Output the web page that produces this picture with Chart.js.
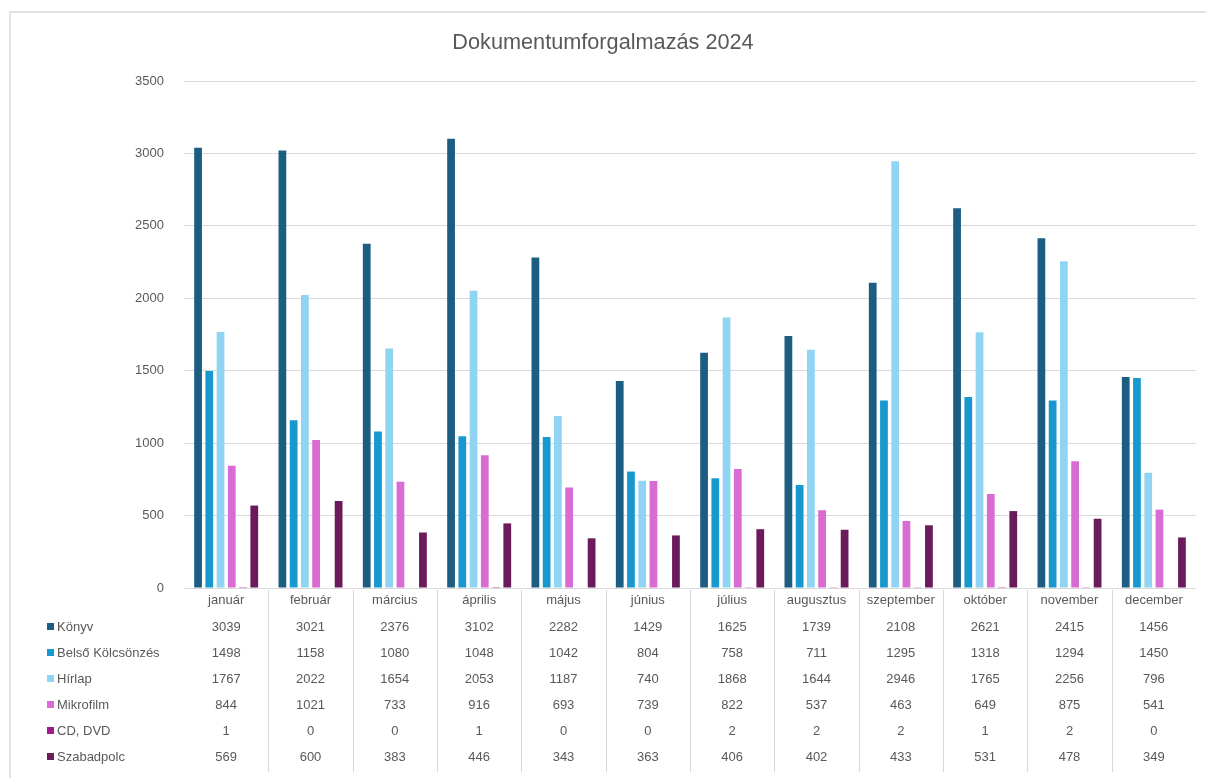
<!DOCTYPE html>
<html>
<head>
<meta charset="utf-8">
<script src="https://cdn.jsdelivr.net/npm/chart.js@4.4.1/dist/chart.umd.min.js"></script>
<style>
  html, body { margin: 0; padding: 0; background: #fff; }
  #wrap { width: 1206px; height: 778px; position: relative; }
</style>
</head>
<body>
<div id="wrap"><canvas id="chart"></canvas></div>
<script>
// ================= DATA =================

const months = ["január","február","március","április","május","június",
                "július","augusztus","szeptember","október","november","december"];

const seriesNames = ["Könyv","Belső Kölcsönzés","Hírlap","Mikrofilm","CD, DVD","Szabadpolc"];

const konyv      = [3039, 3021, 2376, 3102, 2282, 1429, 1625, 1739, 2108, 2621, 2415, 1456];
const belso      = [1498, 1158, 1080, 1048, 1042,  804,  758,  711, 1295, 1318, 1294, 1450];
const hirlap     = [1767, 2022, 1654, 2053, 1187,  740, 1868, 1644, 2946, 1765, 2256,  796];
const mikrofilm  = [ 844, 1021,  733,  916,  693,  739,  822,  537,  463,  649,  875,  541];
const cdDvd      = [   1,    0,    0,    1,    0,    0,    2,    2,    2,    1,    2,    0];
const szabadpolc = [ 569,  600,  383,  446,  343,  363,  406,  402,  433,  531,  478,  349];

const yTicks = [0, 500, 1000, 1500, 2000, 2500, 3000, 3500];

const seriesColors = ["#1c5d82","#1798cf","#8fd4f2","#d86cd3","#a01c8d","#6b1a5b"];

// ================= STYLE =================

const textGray = "#595959";
const lineGray = "#d9d9d9";
const narrow = '"Liberation Sans Narrow", "Liberation Sans", Arial, sans-serif';

// data table under the plot, aligned to the category scale
const dataTablePlugin = {
    id: "dataTable",
    beforeDraw(chart){
        const ctx = chart.ctx;
        ctx.save();
        ctx.strokeStyle = "#e3e3e3";
        ctx.lineWidth = 2;
        ctx.beginPath();
        ctx.moveTo(10, 778);
        ctx.lineTo(10, 12);
        ctx.lineTo(1206, 12);
        ctx.stroke();
        ctx.restore();
    },
    afterDraw(chart){
        const ctx = chart.ctx;
        const x = chart.scales.x;
        const bottom = chart.chartArea.bottom;
        const rowTop = bottom + 39;
        const rowStep = 26;

        ctx.save();

        // dividers between months
        ctx.strokeStyle = lineGray;
        ctx.lineWidth = 1;
        for(let j = 0; j < months.length - 1; j++){
            const xx = Math.round((x.getPixelForValue(j) + x.getPixelForValue(j + 1)) / 2) + 0.5;
            ctx.beginPath();
            ctx.moveTo(xx, bottom + 2);
            ctx.lineTo(xx, 772);
            ctx.stroke();
        }

        ctx.font = "13px " + narrow;
        ctx.textBaseline = "middle";
        chart.data.datasets.forEach((ds, i) => {
            const y = rowTop + i * rowStep;
            // legend key
            ctx.fillStyle = ds.backgroundColor;
            ctx.fillRect(47, y - 4, 7, 7);
            ctx.fillStyle = textGray;
            ctx.textAlign = "left";
            ctx.fillText(ds.label, 57, y);
            // values
            ctx.textAlign = "center";
            ds.data.forEach((v, j) => {
                ctx.fillText(String(v), x.getPixelForValue(j), y);
            });
        });
        ctx.restore();
    }
};

const allSeries = [konyv, belso, hirlap, mikrofilm, cdDvd, szabadpolc];

const ctx = document.getElementById("chart").getContext("2d");

const chart = new Chart(ctx, {
    type: "bar",
    data: {
        labels: months,
        datasets: allSeries.map((d, i) => ({
            label: seriesNames[i],
            data: d,
            backgroundColor: seriesColors[i],
            borderWidth: 0,
            categoryPercentage: 0.8,
            barPercentage: 0.69
        }))
    },
    options: {
        animation: false,
        responsive: true,
        maintainAspectRatio: false,
        layout: { padding: { left: 10, right: 10, top: 0, bottom: 166 } },
        scales: {
            x: {
                afterFit: s => { s.height = 24; },
                grid: { display: false, drawTicks: false },
                border: { display: false },
                ticks: {
                    color: textGray,
                    padding: 5,
                    font: { family: narrow, size: 13 },
                    maxRotation: 0,
                    autoSkip: false
                }
            },
            y: {
                min: 0,
                max: 3500,
                afterFit: s => { s.width = 174; },
                afterBuildTicks: s => { s.ticks = yTicks.map(v => ({ value: v })); },
                grid: { color: lineGray, drawTicks: false },
                border: { display: false },
                ticks: {
                    color: textGray,
                    padding: 20,
                    font: { family: narrow, size: 13 },
                    callback: v => String(v)
                }
            }
        },
        plugins: {
            legend: { display: false },
            tooltip: { enabled: false },
            title: {
                display: true,
                text: "Dokumentumforgalmazás 2024",
                color: textGray,
                font: { family: '"Liberation Sans", Arial, sans-serif', size: 21.7, weight: "normal" },
                padding: { top: 30, bottom: 25 }
            }
        }
    },
    plugins: [dataTablePlugin]
});
</script>
</body>
</html>
